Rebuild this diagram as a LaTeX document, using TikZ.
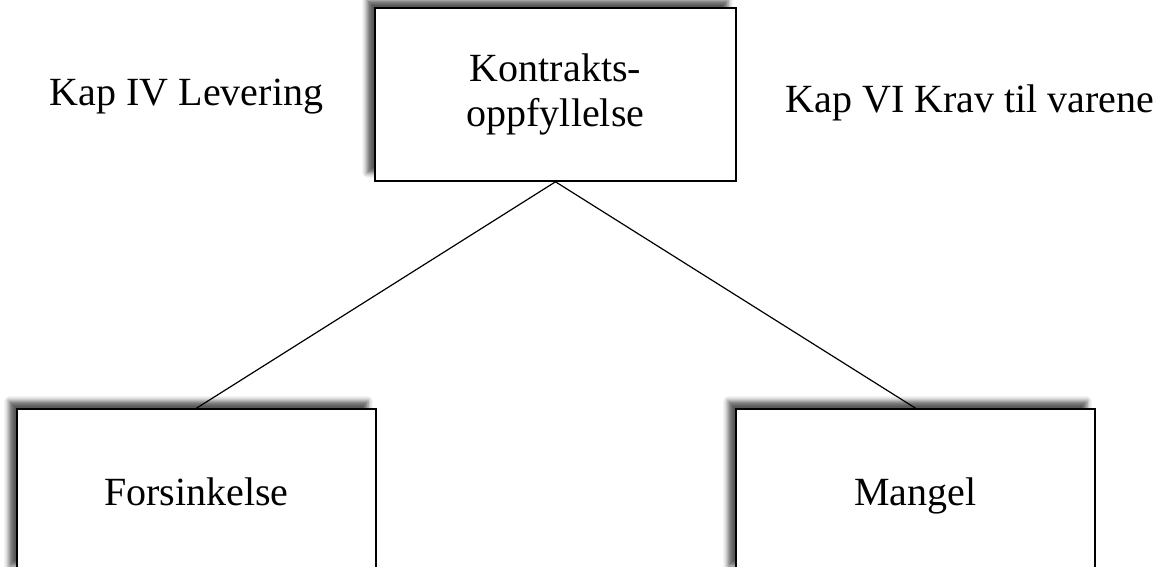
\documentclass[tikz,border=0pt]{standalone}
\usepackage{fontspec}
\setmainfont{Liberation Serif}
\usetikzlibrary{shadows.blur}
\tikzstyle{block} = [rectangle, draw, line width=1.6pt, fill=white, inner sep=0pt, minimum width=359pt, minimum height=165pt, blur shadow={shadow xshift=-8pt, shadow yshift=8pt, shadow blur radius=5pt, shadow opacity=65}]
\tikzstyle{line} = [draw, line width=1.2pt]
\tikzstyle{kaptext} = [anchor=base, inner sep=0pt]

\begin{document}
\begin{tikzpicture}[x=1pt, y=1pt, node distance=397pt, font=\fontsize{40}{45}\selectfont]
  \useasboundingbox (0,0) rectangle (1163,566);
  \node [block, minimum width=361pt, minimum height=173pt, align=center] (kontrakt) at (555.5,471.5) {Kontrakts-\\oppfyllelse};
  \node [block, below of=kontrakt, xshift=-359pt, text depth=0pt] (forsinkelse) {Forsinkelse};
  \node [block, below of=kontrakt, xshift=360pt, text depth=0pt] (mangel) {Mangel};

  \node [kaptext] (kapiv) at (186.5,460) {Kap IV Levering};
  \node [kaptext] (kapvi) at (970,453) {Kap VI Krav til varene};

  \path [line] (kontrakt.south) -- (forsinkelse.north);
  \path [line] (kontrakt.south) -- (mangel.north);
\end{tikzpicture}
\end{document}
